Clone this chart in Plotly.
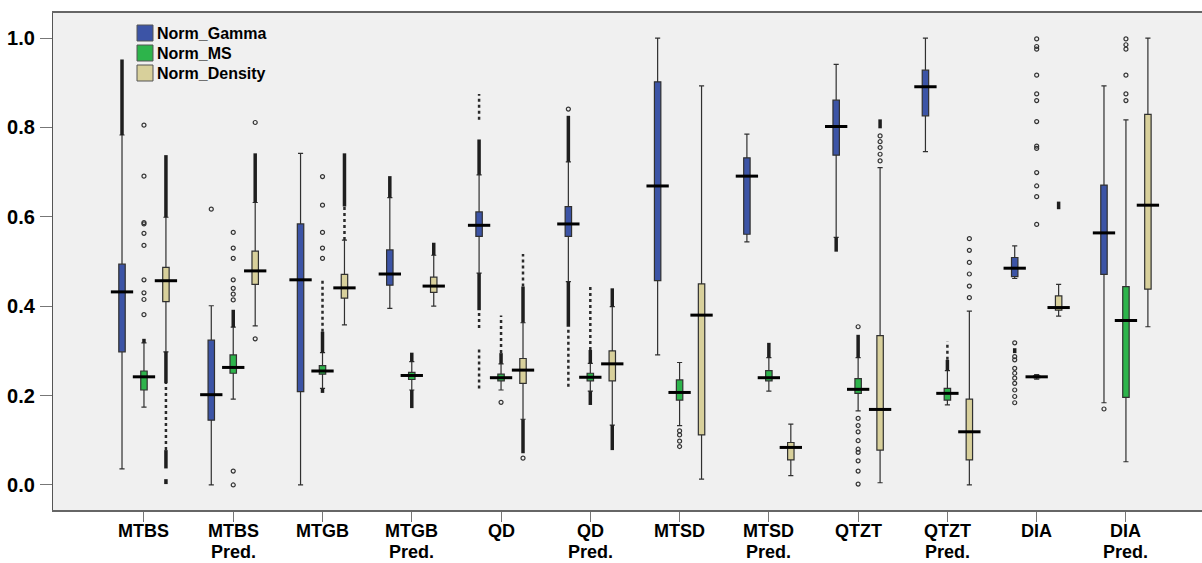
import plotly.graph_objects as go

# ---------------- data ----------------
categories = ["MTBS", "MTBS Pred.", "MTGB", "MTGB Pred.", "QD", "QD Pred.",
              "MTSD", "MTSD Pred.", "QTZT", "QTZT Pred.", "DIA", "DIA Pred."]
series_names = ["Norm_Gamma", "Norm_MS", "Norm_Density"]

# Norm_Gamma
gamma_low = [0.036, 0.000, 0.000, 0.395, 0.474, 0.455, 0.291, 0.544, 0.554, 0.746, 0.462, 0.184]
gamma_q1 = [0.298, 0.145, 0.209, 0.447, 0.556, 0.556, 0.457, 0.561, 0.738, 0.826, 0.466, 0.471]
gamma_med = [0.432, 0.202, 0.459, 0.472, 0.581, 0.584, 0.669, 0.691, 0.802, 0.891, 0.485, 0.564]
gamma_q3 = [0.494, 0.324, 0.584, 0.526, 0.611, 0.623, 0.902, 0.732, 0.861, 0.928, 0.509, 0.671]
gamma_high = [0.783, 0.401, 0.742, 0.643, 0.694, 0.723, 1.000, 0.785, 0.941, 1.000, 0.535, 0.893]
gamma_dense = [[(0.783, 0.952)], [], [], [(0.643, 0.691)],
               [(0.694, 0.773), (0.391, 0.474)], [(0.723, 0.826), (0.354, 0.455)],
               [], [], [(0.522, 0.554)], [], [(0.295, 0.306)], []]
gamma_sparse = [[], [], [], [], [(0.817, 0.875), (0.351, 0.391), (0.216, 0.310)],
                [(0.220, 0.354)], [], [], [], [], [], []]
gamma_points = [[], [0.617], [], [], [], [0.841], [], [], [], [],
                [0.318, 0.287, 0.280, 0.261, 0.250, 0.239, 0.2275, 0.2125, 0.198, 0.184], [0.170]]

# Norm_MS
ms_low = [0.174, 0.192, 0.216, 0.2125, 0.2125, 0.210, 0.133, 0.210, 0.166, 0.179, 0.237, 0.052]
ms_q1 = [0.2125, 0.250, 0.248, 0.236, 0.233, 0.233, 0.190, 0.233, 0.205, 0.190, 0.240, 0.196]
ms_med = [0.242, 0.263, 0.255, 0.245, 0.240, 0.241, 0.207, 0.240, 0.214, 0.205, 0.242, 0.368]
ms_q3 = [0.255, 0.291, 0.267, 0.252, 0.248, 0.250, 0.235, 0.256, 0.238, 0.216, 0.244, 0.444]
ms_high = [0.318, 0.353, 0.296, 0.276, 0.271, 0.272, 0.274, 0.285, 0.285, 0.256, 0.247, 0.817]
ms_dense = [[(0.318, 0.327)], [(0.353, 0.392)], [(0.296, 0.343), (0.206, 0.216)],
            [(0.276, 0.296), (0.172, 0.2125)], [(0.271, 0.295)], [(0.272, 0.302), (0.179, 0.210)],
            [], [(0.285, 0.318)], [(0.285, 0.336)], [(0.256, 0.280)], [], []]
ms_sparse = [[], [], [(0.343, 0.459)], [], [(0.295, 0.379)], [(0.302, 0.449)],
             [], [], [], [(0.280, 0.321)], [], []]
ms_points = [[0.381, 0.415, 0.430, 0.459, 0.536, 0.563, 0.584, 0.587, 0.691, 0.805],
             [0.414, 0.427, 0.440, 0.459, 0.507, 0.530, 0.565, 0.031, 0.000],
             [0.507, 0.530, 0.565, 0.626, 0.690], [], [0.185], [],
             [0.121, 0.112, 0.098, 0.086], [],
             [0.354, 0.149, 0.133, 0.119, 0.099, 0.080, 0.073, 0.054, 0.031, 0.002], [],
             [0.583, 0.645, 0.669, 0.699, 0.753, 0.758, 0.813, 0.860, 0.875, 0.917, 0.975, 0.981, 0.998],
             [0.860, 0.875, 0.917, 0.975, 0.985, 0.998]]

# Norm_Density
dens_low = [0.298, 0.356, 0.358, 0.400, 0.147, 0.134, 0.013, 0.021, 0.005, 0.000, 0.378, 0.354]
dens_q1 = [0.410, 0.449, 0.418, 0.431, 0.2275, 0.233, 0.112, 0.056, 0.078, 0.056, 0.391, 0.438]
dens_med = [0.457, 0.479, 0.441, 0.445, 0.257, 0.271, 0.380, 0.084, 0.169, 0.119, 0.397, 0.626]
dens_q3 = [0.487, 0.523, 0.471, 0.465, 0.283, 0.300, 0.450, 0.095, 0.334, 0.192, 0.423, 0.829]
dens_high = [0.599, 0.632, 0.548, 0.514, 0.363, 0.399, 0.893, 0.136, 0.710, 0.389, 0.449, 1.000]
dens_dense = [[(0.599, 0.738), (0.228, 0.298), (0.037, 0.078), (0.002, 0.013)],
              [(0.632, 0.742)], [(0.623, 0.742)], [(0.514, 0.542)],
              [(0.363, 0.444), (0.071, 0.147)], [(0.399, 0.440), (0.078, 0.134)],
              [], [], [(0.798, 0.818)], [], [(0.617, 0.634)], []]
dens_sparse = [[(0.078, 0.228)], [], [(0.548, 0.623)], [], [(0.444, 0.517)], [],
               [], [], [], [], [], []]
dens_points = [[], [0.811, 0.327], [], [], [0.060], [], [], [],
               [0.725, 0.740, 0.755, 0.768, 0.781],
               [0.419, 0.445, 0.472, 0.498, 0.525, 0.551], [], []]

# ---------------- style ----------------
colors = ["#3c54a6", "#2db44b", "#d8d09b"]
offsets = [-0.246, 0.0, 0.246]
box_w = 0.072
med_half = 0.125
FONT = "Liberation Sans, Arial, sans-serif"

series = [
    (gamma_low, gamma_q1, gamma_med, gamma_q3, gamma_high, gamma_dense, gamma_sparse, gamma_points),
    (ms_low, ms_q1, ms_med, ms_q3, ms_high, ms_dense, ms_sparse, ms_points),
    (dens_low, dens_q1, dens_med, dens_q3, dens_high, dens_dense, dens_sparse, dens_points),
]

fig = go.Figure()
n = len(categories)

for s, (lo, q1, med, q3, hi, dense, sparse, pts) in enumerate(series):
    xs = [i + offsets[s] for i in range(n)]
    fig.add_trace(go.Box(
        name=series_names[s], x=xs, q1=q1, median=med, q3=q3,
        lowerfence=lo, upperfence=hi, width=box_w, whiskerwidth=0.8,
        fillcolor=colors[s], line=dict(color="#303030", width=1.2),
        boxpoints=False, showlegend=False, hoverinfo="skip"))

for s, (lo, q1, med, q3, hi, dense, sparse, pts) in enumerate(series):
    xs = [i + offsets[s] for i in range(n)]
    # median bars
    mx, my = [], []
    for i in range(n):
        mx += [xs[i] - med_half, xs[i] + med_half, None]
        my += [med[i], med[i], None]
    fig.add_trace(go.Scatter(x=mx, y=my, mode="lines",
                             line=dict(color="#000000", width=3),
                             showlegend=False, hoverinfo="skip"))
    # dense outlier bands
    bx, by = [], []
    for i in range(n):
        for a, b in dense[i]:
            bx += [xs[i], xs[i], None]
            by += [a, b, None]
    fig.add_trace(go.Scatter(x=bx, y=by, mode="lines",
                             line=dict(color="#1e1e1e", width=3.5),
                             showlegend=False, hoverinfo="skip"))
    # sparse outlier bands
    sx, sy = [], []
    for i in range(n):
        for a, b in sparse[i]:
            sx += [xs[i], xs[i], None]
            sy += [a, b, None]
    fig.add_trace(go.Scatter(x=sx, y=sy, mode="lines",
                             line=dict(color="#2a2a2a", width=2.5, dash="dot"),
                             showlegend=False, hoverinfo="skip"))
    # individual outliers
    px_, py_ = [], []
    for i in range(n):
        for v in pts[i]:
            px_.append(xs[i])
            py_.append(v)
    fig.add_trace(go.Scatter(x=px_, y=py_, mode="markers",
                             marker=dict(symbol="circle-open", size=4, color="#333333",
                                         line=dict(width=1.2)),
                             showlegend=False, hoverinfo="skip"))

# ---------------- layout ----------------
W, H = 1202, 563
ML, MR, MT, MB = 53, 0, 13, 53
pw, ph = W - ML - MR, H - MT - MB


def px2paper_x(p):
    return (p - ML) / pw


def px2paper_y(p):
    return (H - MB - p) / ph


annotations = []
shapes = []
# x category labels (bold, two lines)
for i, lab in enumerate(categories):
    for k, line in enumerate(lab.split(" ")):
        annotations.append(dict(x=i, y=px2paper_y(531 + 20.5 * k), xref="x", yref="paper",
                                text=line, showarrow=False, xanchor="center", yanchor="middle",
                                borderpad=0,
                                font=dict(family=FONT, size=18, color="#000000", weight="bold")))

# custom legend
for s, name in enumerate(series_names):
    top = 25 + 20 * s
    shapes.append(dict(type="rect", xref="paper", yref="paper",
                       x0=px2paper_x(137), x1=px2paper_x(153),
                       y0=px2paper_y(top + 16), y1=px2paper_y(top),
                       fillcolor=colors[s], line=dict(color="#555555", width=1)))
    annotations.append(dict(x=px2paper_x(155), y=px2paper_y(top + 8.5), xref="paper", yref="paper",
                            text=name, showarrow=False, xanchor="left", yanchor="middle",
                            font=dict(family=FONT, size=16, color="#000000", weight="bold")))

fig.update_layout(
    width=W, height=H,
    margin=dict(l=ML, r=MR, t=MT, b=MB, pad=0),
    paper_bgcolor="#ffffff", plot_bgcolor="#f0f0f0",
    showlegend=False,
    annotations=annotations, shapes=shapes,
    xaxis=dict(range=[-1.019, 11.852], tickvals=list(range(n)), showticklabels=False,
               ticks="outside", ticklen=10, tickcolor="#777777", tickwidth=1.2,
               showgrid=False, zeroline=False, showline=True, linecolor="#666666",
               linewidth=1.5, mirror=True),
    yaxis=dict(range=[-0.056, 1.056], tickvals=[0, 0.2, 0.4, 0.6, 0.8, 1.0],
               tickformat=".1f", ticks="outside", ticklen=12, tickcolor="#777777", tickwidth=1.2,
               tickfont=dict(family=FONT, size=20, color="#000000", weight="bold"),
               showgrid=False, zeroline=False, showline=True, linecolor="#555555",
               linewidth=1.2, ticklabelstandoff=1),
)

fig.write_html("out.html")
